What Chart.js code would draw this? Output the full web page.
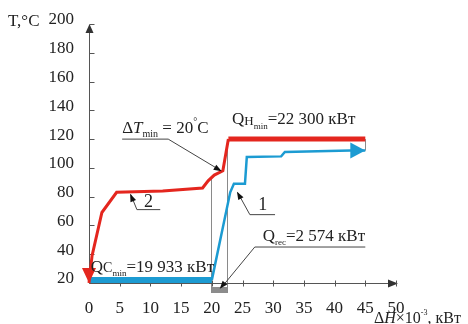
<!DOCTYPE html>
<html>
<head>
<meta charset="utf-8">
<script src="https://cdn.jsdelivr.net/npm/chart.js@4.4.0/dist/chart.umd.min.js"></script>
<style>
  html, body { margin: 0; padding: 0; background: #fff; }
</style>
</head>
<body>
<canvas id="chart" width="468" height="324"></canvas>
<script>
// hot stream (2)
const hotX = [0, 0.5, 2.1, 4.5, 12, 18.5, 19.4, 20.4, 21.8, 22.7, 45];
const hotT = [20, 39, 69, 83, 84, 86, 91, 95, 98, 120, 120];
// cold stream (1)
const coldX = [0, 20, 23, 23.6, 25.4, 25.7, 31.3, 31.9, 42.6, 45];
const coldT = [22, 22, 83, 89, 89, 107.5, 108, 111, 112, 112];

const xTicks = [0, 5, 10, 15, 20, 25, 30, 35, 40, 45, 50];
const yTicks = [20, 40, 60, 80, 100, 120, 140, 160, 180, 200];

// energy targets, kW x 10^-3
const qCmin = 19.933;
const qRec = 2.574;

const RED = '#e4261e';
const BLUE = '#1c9bd2';
const FONT = '"Liberation Serif", "Times New Roman", serif';
const INK = '#222';

function hotAt(v) {
    for (let i = 1; i < hotX.length; i++) {
        if (v <= hotX[i]) {
            const t = (v - hotX[i - 1]) / (hotX[i] - hotX[i - 1]);
            return hotT[i - 1] + t * (hotT[i] - hotT[i - 1]);
        }
    }
    return hotT[hotT.length - 1];
}

// draw a string made of several runs (sub/superscripts, italics)
function drawRuns(ctx, x, y, parts) {
    parts.forEach(p => {
        ctx.font = (p.i ? 'italic ' : '') + p.s + 'px ' + FONT;
        ctx.fillText(p.t, x, y + (p.dy || 0));
        x += ctx.measureText(p.t).width;
    });
}

function seg(ctx, x1, y1, x2, y2) {
    ctx.beginPath();
    ctx.moveTo(x1, y1);
    ctx.lineTo(x2, y2);
    ctx.stroke();
}

function arrowHead(ctx, fx, fy, tx, ty, len, half) {
    const a = Math.atan2(ty - fy, tx - fx);
    const bx = tx - len * Math.cos(a), by = ty - len * Math.sin(a);
    ctx.beginPath();
    ctx.moveTo(tx, ty);
    ctx.lineTo(bx + half * Math.sin(a), by - half * Math.cos(a));
    ctx.lineTo(bx - half * Math.sin(a), by + half * Math.cos(a));
    ctx.closePath();
    ctx.fill();
}

const overlay = {
    id: 'overlay',
    beforeDatasetsDraw(chart) {
        const { ctx, scales: { x: sx, y: sy } } = chart;
        const X = v => sx.getPixelForValue(v), Y = v => sy.getPixelForValue(v);
        const y0 = Y(20);
        ctx.save();

        // guide lines at the recovery bounds
        ctx.strokeStyle = '#8a8a8a';
        ctx.lineWidth = 1;
        [qCmin, qCmin + qRec].forEach(q => {
            seg(ctx, Math.round(X(q)) + 0.5, Y(hotAt(q)), Math.round(X(q)) + 0.5, y0 + 10);
        });
        const xe = Math.round(X(hotX[hotX.length - 1])) + 0.5;
        seg(ctx, xe, Y(hotT[hotT.length - 1]), xe, Y(coldT[coldT.length - 1]));

        // recovery bar under the axis
        ctx.fillStyle = '#8c8c8c';
        ctx.fillRect(X(qCmin), y0 + 4, X(qCmin + qRec) - X(qCmin), 6);

        // axes
        ctx.strokeStyle = '#555';
        ctx.fillStyle = '#333';
        const ax = Math.round(X(0)) + 0.5;
        const ay = Math.round(y0) + 0.5;
        seg(ctx, ax, ay, X(50) - 4, ay);
        seg(ctx, ax, ay, ax, Y(200) + 4);
        arrowHead(ctx, ax, ay, X(50) + 2, ay, 10, 4);
        arrowHead(ctx, ax, ay, ax, Y(200), 9, 4);
        xTicks.forEach(v => { if (v > 0) seg(ctx, Math.round(X(v)) + 0.5, ay - 3, Math.round(X(v)) + 0.5, ay + 3); });
        yTicks.forEach(v => seg(ctx, ax, Math.round(Y(v)) + 0.5, ax + 5, Math.round(Y(v)) + 0.5));

        // axis titles
        ctx.fillStyle = INK;
        ctx.textBaseline = 'alphabetic';
        drawRuns(ctx, 8, Y(200) + 2, [{ t: 'T,°C', s: 17 }]);
        drawRuns(ctx, 374, 323, [
            { t: 'Δ', s: 16 }, { t: 'H', s: 16, i: true }, { t: '×10', s: 16 },
            { t: '-3', s: 8, dy: -8 }, { t: ', кВт', s: 16 }
        ]);
        ctx.restore();
    },
    afterDatasetsDraw(chart) {
        const { ctx, scales: { x: sx, y: sy } } = chart;
        const X = v => sx.getPixelForValue(v), Y = v => sy.getPixelForValue(v);
        ctx.save();

        // stream direction arrows
        ctx.fillStyle = RED;
        const hx = X(hotX[0]), hy = Y(hotT[0]);
        arrowHead(ctx, hx, hy - 20, hx, hy, 15, 7);
        ctx.fillStyle = BLUE;
        const n = coldX.length - 1;
        const cx = X(coldX[n]), cy = Y(coldT[n]);
        arrowHead(ctx, cx - 20, cy, cx, cy, 15, 8);

        // leader lines
        ctx.strokeStyle = '#444';
        ctx.fillStyle = '#111';
        ctx.lineWidth = 1;
        const leader = (pts) => {
            ctx.beginPath();
            pts.forEach((p, i) => i ? ctx.lineTo(X(p[0]), Y(p[1])) : ctx.moveTo(X(p[0]), Y(p[1])));
            ctx.stroke();
        };
        // ΔTmin
        leader([[5.4, 120], [12.9, 120], [21.5, 98]]);
        arrowHead(ctx, X(12.9), Y(120), X(21.6), Y(97.6), 8, 3);
        // curve 2
        leader([[11.6, 71], [7.8, 71], [6.8, 81.5]]);
        arrowHead(ctx, X(7.8), Y(71), X(6.7), Y(82), 8, 3);
        // curve 1
        leader([[30.3, 67.5], [26.2, 67.5], [24.2, 83]]);
        arrowHead(ctx, X(26.2), Y(67.5), X(24.1), Y(83.5), 8, 3);
        // Qrec
        leader([[45, 45], [27, 45], [21.6, 17]]);
        arrowHead(ctx, X(27), Y(45), X(21.3), Y(16), 8, 3);

        // labels
        ctx.fillStyle = INK;
        ctx.textBaseline = 'alphabetic';
        drawRuns(ctx, X(5.4), Y(124.2), [
            { t: 'Δ', s: 17 }, { t: 'T', s: 17, i: true }, { t: 'min', s: 10, dy: 4 },
            { t: ' = 20', s: 17 }, { t: '°', s: 10, dy: -8 }, { t: 'C', s: 17 }
        ]);
        drawRuns(ctx, X(23.3), Y(130.8), [
            { t: 'Q', s: 17 }, { t: 'H', s: 13, dy: 1 }, { t: 'min', s: 9, dy: 5 },
            { t: '=22 300 кВт', s: 17 }
        ]);
        drawRuns(ctx, X(0.3), Y(27.6), [
            { t: 'Q', s: 17 }, { t: 'C', s: 14, dy: 0 }, { t: 'min', s: 9, dy: 4 },
            { t: '=19 933 кВт', s: 17 }
        ]);
        drawRuns(ctx, X(28.3), Y(49), [
            { t: 'Q', s: 17 }, { t: 'rec', s: 9, dy: 4 }, { t: '=2 574 кВт', s: 17 }
        ]);
        ctx.textAlign = 'center';
        drawRuns(ctx, X(9.7), Y(72.5), [{ t: '2', s: 18 }]);
        drawRuns(ctx, X(28.3), Y(70.5), [{ t: '1', s: 18 }]);
        ctx.restore();
    }
};

const topT = hotT[hotT.length - 1];

new Chart(document.getElementById('chart'), {
    type: 'scatter',
    data: {
        datasets: [
            {
                label: '2',
                data: hotX.map((x, i) => ({ x, y: hotT[i] })),
                showLine: true,
                borderColor: RED,
                borderWidth: 3,
                pointRadius: 0,
                clip: false,
                segment: {
                    borderWidth: c => (c.p0.parsed.y === topT && c.p1.parsed.y === topT) ? 5 : 3
                }
            },
            {
                label: '1',
                data: coldX.map((x, i) => ({ x, y: coldT[i] })),
                showLine: true,
                borderColor: BLUE,
                borderWidth: 2.5,
                pointRadius: 0,
                clip: false,
                segment: {
                    borderWidth: c => c.p0DataIndex === 0 ? 6 : 2.5
                }
            }
        ]
    },
    options: {
        responsive: false,
        devicePixelRatio: 1,
        animation: false,
        layout: { padding: { left: 0, top: 24, right: 72, bottom: 0 } },
        plugins: { legend: { display: false }, tooltip: { enabled: false } },
        scales: {
            x: {
                type: 'linear',
                min: 0,
                max: 50,
                afterBuildTicks: s => { s.ticks = xTicks.map(v => ({ value: v })); },
                afterFit: s => { s.height = 41; },
                grid: { display: false },
                border: { display: false },
                ticks: { color: INK, font: { family: FONT, size: 17 }, padding: 7, maxRotation: 0, autoSkip: false }
            },
            y: {
                type: 'linear',
                min: 20,
                max: 200,
                afterBuildTicks: s => { s.ticks = yTicks.map(v => ({ value: v })); },
                afterFit: s => { s.width = 89; },
                grid: { display: false },
                border: { display: false },
                ticks: { color: INK, font: { family: FONT, size: 17 }, padding: 7, labelOffset: -4, autoSkip: false }
            }
        }
    },
    plugins: [overlay]
});
</script>
</body>
</html>
